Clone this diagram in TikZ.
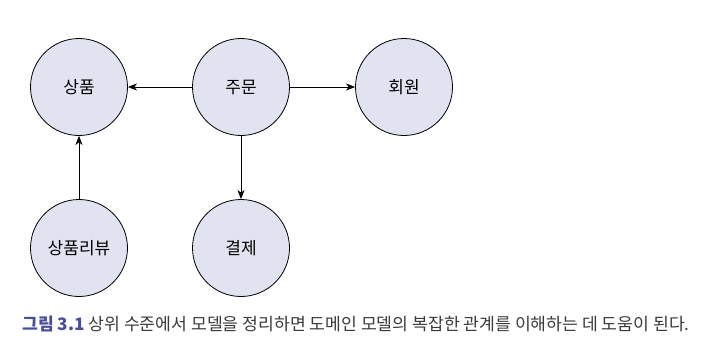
\documentclass[tikz,border=0pt]{standalone}
\usepackage{fontspec}
\setmainfont{Noto Sans CJK KR}
\usetikzlibrary{arrows.meta}
\definecolor{entityfill}{HTML}{E2E3F1}
\definecolor{figblue}{HTML}{4A4F9C}
\definecolor{captiongray}{HTML}{3A3A3A}

\begin{document}
\begin{tikzpicture}[x=1pt,y=-1pt,
  entity/.style={circle, draw, line width=0.8pt, fill=entityfill, minimum size=97pt, inner sep=0pt, font=\fontsize{17}{19}\selectfont},
  rel/.style={-{Stealth[length=9pt,width=7pt,inset=2.5pt]}, line width=0.8pt}]
\useasboundingbox (0,0) rectangle (706,356);

\node[entity] (product) at (79,87) {상품};
\node[entity] (order) at (241,87) {주문};
\node[entity] (member) at (404,87) {회원};
\node[entity] (review) at (79,248) {상품리뷰};
\node[entity] (payment) at (241,248) {결제};

\draw[rel] (order) -- (product);
\draw[rel] (order) -- (member);
\draw[rel] (order) -- (payment);
\draw[rel] (review) -- (product);

\node[anchor=west, inner sep=0pt, font=\fontsize{17.2}{19}\selectfont] (caption) at (22,324)
  {\textcolor{figblue}{\textbf{그림 3.1}} \textcolor{captiongray}{상위 수준에서 모델을 정리하면 도메인 모델의 복잡한 관계를 이해하는 데 도움이 된다.}};
\end{tikzpicture}
\end{document}
